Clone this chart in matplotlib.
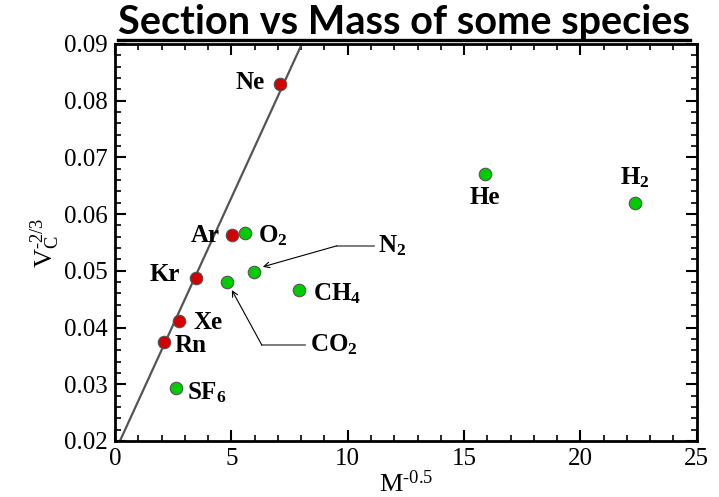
import matplotlib
matplotlib.use('Agg')
import matplotlib.pyplot as plt
from matplotlib.lines import Line2D
from matplotlib.ticker import MultipleLocator

plt.rcParams['font.family'] = ['Liberation Serif', 'DejaVu Serif']
plt.rcParams['mathtext.fontset'] = 'custom'
plt.rcParams['mathtext.rm'] = 'Liberation Serif'
plt.rcParams['mathtext.it'] = 'Liberation Serif:italic'
plt.rcParams['mathtext.bf'] = 'Liberation Serif:bold'

# noble gases (red) - lie on the fitted line
red_names = ['Ne', 'Ar', 'Kr', 'Xe', 'Rn']
red_x = [7.08, 5.02, 3.48, 2.75, 2.10]
red_y = [0.0829, 0.0563, 0.0487, 0.0411, 0.0374]

# other species (green)
green_names = [r'$\mathbf{O_2}$', r'$\mathbf{N_2}$', r'$\mathbf{CO_2}$', r'$\mathbf{CH_4}$',
               r'$\mathbf{SF_6}$', 'He', r'$\mathbf{H_2}$']
green_x = [5.58, 5.97, 4.80, 7.90, 2.62, 15.88, 22.36]
green_y = [0.0567, 0.0498, 0.0480, 0.0466, 0.0293, 0.0671, 0.0620]

# straight fit line
line_x = [0.21, 8.03]
line_y = [0.02, 0.09]

fig = plt.figure(figsize=(7.19, 4.97), dpi=100)
ax = fig.add_axes([0.16, 0.1127, 0.809, 0.799])

ax.plot(line_x, line_y, color='#555555', lw=1.6, zorder=2)
ax.plot(red_x, red_y, 'o', ms=9, mfc='#d40000', mec='#555555', mew=0.8, zorder=3)
ax.plot(green_x, green_y, 'o', ms=9, mfc='#00cc00', mec='#555555', mew=0.8, zorder=3)

lab = dict(fontsize=18, fontweight='bold', textcoords='offset points')
px = 0.72  # pixel -> points
ax.annotate(red_names[0], (red_x[0], red_y[0]), xytext=(-15 * px, 2 * px), ha='right', va='center', **lab)
ax.annotate(red_names[1], (red_x[1], red_y[1]), xytext=(-12 * px, 0), ha='right', va='center', **lab)
ax.annotate(red_names[2], (red_x[2], red_y[2]), xytext=(-16 * px, 4 * px), ha='right', va='center', **lab)
ax.annotate(red_names[3], (red_x[3], red_y[3]), xytext=(14 * px, -1 * px), ha='left', va='center', **lab)
ax.annotate(red_names[4], (red_x[4], red_y[4]), xytext=(11 * px, -3 * px), ha='left', va='center', **lab)

ax.annotate(green_names[0], (green_x[0], green_y[0]), xytext=(13 * px, -3 * px), ha='left', va='center', **lab)
ax.annotate(green_names[3], (green_x[3], green_y[3]), xytext=(14 * px, -4 * px), ha='left', va='center', **lab)
ax.annotate(green_names[4], (green_x[4], green_y[4]), xytext=(11 * px, -4 * px), ha='left', va='center', **lab)
ax.annotate(green_names[5], (green_x[5], green_y[5]), xytext=(0, -24 * px), ha='center', va='center', **lab)
ax.annotate(green_names[6], (green_x[6], green_y[6]), xytext=(0, 25 * px), ha='center', va='center', **lab)

# N2 leader
ax.plot([11.15, 9.53], [0.0544, 0.0544], color='#666666', lw=1.2, zorder=2)
ax.annotate('', xy=(6.35, 0.0507), xytext=(9.53, 0.0544),
            arrowprops=dict(arrowstyle='->', color='black', lw=0.8, shrinkA=0, shrinkB=0))
ax.text(11.3, 0.0544, green_names[1], fontsize=18, ha='left', va='center')

# CO2 leader
ax.plot([6.31, 8.15], [0.0369, 0.0369], color='#666666', lw=1.2, zorder=2)
ax.annotate('', xy=(5.02, 0.0466), xytext=(6.31, 0.0369),
            arrowprops=dict(arrowstyle='->', color='black', lw=0.8, shrinkA=0, shrinkB=0))
ax.text(8.37, 0.0369, green_names[2], fontsize=18, ha='left', va='center')

ax.set_xlim(0, 25)
ax.set_ylim(0.02, 0.09)
ax.xaxis.set_major_locator(MultipleLocator(5))
ax.xaxis.set_minor_locator(MultipleLocator(1))
ax.yaxis.set_minor_locator(MultipleLocator(0.002))
ax.set_yticks([0.02, 0.03, 0.04, 0.05, 0.06, 0.07, 0.08, 0.09])
ax.set_yticklabels(['0.02', '0.03', '0.04', '0.05', '0.06', '0.07', '0.08', '0.09'])
ax.tick_params(which='both', direction='in', top=True, right=True, labelsize=18, width=1.5, pad=5)
ax.tick_params(which='major', length=8)
ax.tick_params(which='minor', length=4, width=1.2)
for s in ax.spines.values():
    s.set_linewidth(2)

ax.set_xlabel(r'M$^{\text{-0.5}}$', fontsize=19, labelpad=0)
ax.set_ylabel(r'V$_\mathregular{C}^{\text{-2/3}}$', fontsize=19, labelpad=2)

t = fig.text(0.562, 0.932, 'Section vs Mass of some species', family=['Lato', 'DejaVu Sans'],
             fontsize=28.5, fontweight='bold', ha='center', va='baseline')
fig.canvas.draw()
bb = t.get_window_extent().transformed(fig.transFigure.inverted())
fig.add_artist(Line2D([bb.x0, bb.x1], [bb.y0 + 0.001, bb.y0 + 0.001], color='black', lw=2.4,
                      transform=fig.transFigure))

fig.savefig('out.png', dpi=100)
